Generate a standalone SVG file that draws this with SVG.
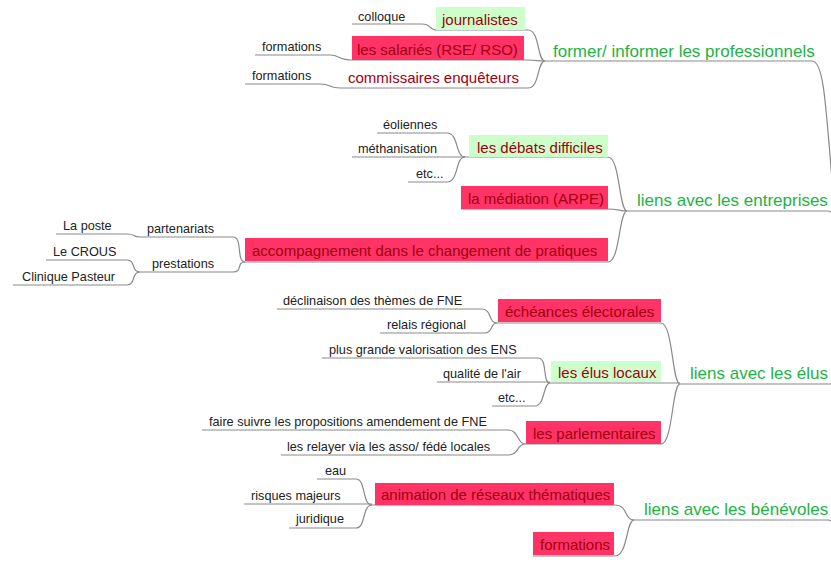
<svg xmlns="http://www.w3.org/2000/svg" width="831" height="564" viewBox="0 0 831 564">
<style>
text{font-family:"Liberation Sans",Arial,sans-serif}
.main{font-size:17px;fill:#1db345}
.sub{font-size:15px;fill:#a0000f}
.leaf{font-size:12.7px;fill:#222}
.pink{fill:#ff3366}
.lg{fill:#ccffcc}
#connectors path{fill:none;stroke:#8a8a8a;stroke-width:1.2}
</style>
<rect width="831" height="564" fill="#fff"/>
<g id="connectors">
<path d="M545 61 H812 C826 61 826 120 838 250"/>
<path d="M437 30 H528 C540 30 537 61 545 61"/>
<path d="M352 24 H422 C432 24 428 30 437 30"/>
<path d="M352 60 H527 C537 60 537 61 545 61"/>
<path d="M255 55 H330 C340 55 338 60 352 60"/>
<path d="M340 88 H528 C540 88 537 61 545 61"/>
<path d="M245 84 H320 C332 84 328 88 340 88"/>
<path d="M627 211 H828 C830 211 831 212 834 214"/>
<path d="M465 157 H608 C620 157 619 211 627 211"/>
<path d="M377 133 H447 C459 133 455 157 465 157"/>
<path d="M352 157 H465"/>
<path d="M408 182 H447 C459 182 455 157 465 157"/>
<path d="M461 209 H608 C618 209 620 211 627 211"/>
<path d="M245 262 H608 C620 262 619 211 627 211"/>
<path d="M140 237 H233 C243 237 236 262 245 262"/>
<path d="M56 234 H127 C136 234 132 237 140 237"/>
<path d="M140 272 H233 C243 272 236 262 245 262"/>
<path d="M46 260 H127 C136 260 131 272 140 272"/>
<path d="M13 285 H127 C136 285 131 272 140 272"/>
<path d="M680 384 H834"/>
<path d="M497 323 H661 C673 323 672 384 680 384"/>
<path d="M277 309 H482 C492 309 488 323 497 323"/>
<path d="M380 333 H485 C493 333 490 323 497 323"/>
<path d="M550 383 H680"/>
<path d="M322 358 H538 C548 358 542 383 550 383"/>
<path d="M437 382 H550"/>
<path d="M492 406 H535 C545 406 543 383 550 383"/>
<path d="M525 444 H661 C673 444 672 384 680 384"/>
<path d="M202 430 H508 C519 430 517 444 525 444"/>
<path d="M281 455 H508 C519 455 517 444 525 444"/>
<path d="M634 520 H828 C830 520 831 521 834 522"/>
<path d="M372 505 H615 C628 505 624 520 634 520"/>
<path d="M317 479 H356 C366 479 362 505 372 505"/>
<path d="M244 504 H372"/>
<path d="M289 528 H356 C366 528 362 505 372 505"/>
<path d="M533 556 H615 C628 556 626 520 634 520"/>
</g>
<g id="former"><text class="main" x="553" y="57">former/ informer les professionnels</text></g>
<g id="journalistes"><rect class="lg" x="436" y="7" width="89" height="23"/><text class="sub" x="442" y="25">journalistes</text></g>
<g id="colloque"><text class="leaf" x="358" y="21">colloque</text></g>
<g id="salaries"><rect class="pink" x="352" y="36" width="172" height="24"/><text class="sub" x="357" y="55">les salariés (RSE/ RSO)</text></g>
<g id="formations1"><text class="leaf" x="262" y="50.5">formations</text></g>
<g id="commissaires"><text class="sub" x="348" y="83">commissaires enquêteurs</text></g>
<g id="formations2"><text class="leaf" x="252" y="79.5">formations</text></g>
<g id="entreprises"><text class="main" x="637" y="206">liens avec les entreprises</text></g>
<g id="debats"><rect class="lg" x="469" y="135" width="139" height="22"/><text class="sub" x="477" y="153">les débats difficiles</text></g>
<g id="eoliennes"><text class="leaf" x="383" y="128.5">éoliennes</text></g>
<g id="methanisation"><text class="leaf" x="358" y="152.5">méthanisation</text></g>
<g id="etc1"><text class="leaf" x="416" y="177.5">etc...</text></g>
<g id="mediation"><rect class="pink" x="461" y="186" width="147" height="23"/><text class="sub" x="468" y="204">la médiation (ARPE)</text></g>
<g id="accompagnement"><rect class="pink" x="245" y="238" width="363" height="23"/><text class="sub" x="252" y="256">accompagnement dans le changement de pratiques</text></g>
<g id="partenariats"><text class="leaf" x="147" y="232.5">partenariats</text></g>
<g id="laposte"><text class="leaf" x="63" y="229.5">La poste</text></g>
<g id="prestations"><text class="leaf" x="152" y="267.5">prestations</text></g>
<g id="crous"><text class="leaf" x="53" y="255.5">Le CROUS</text></g>
<g id="clinique"><text class="leaf" x="22" y="280.5">Clinique Pasteur</text></g>
<g id="elus"><text class="main" x="690" y="379">liens avec les élus</text></g>
<g id="echeances"><rect class="pink" x="498" y="299" width="163" height="23"/><text class="sub" x="505" y="317">échéances électorales</text></g>
<g id="declinaison"><text class="leaf" x="283" y="304.5">déclinaison des thèmes de FNE</text></g>
<g id="relais"><text class="leaf" x="387" y="328.5">relais régional</text></g>
<g id="eluslocaux"><rect class="lg" x="551" y="361" width="110" height="21"/><text class="sub" x="558" y="378">les élus locaux</text></g>
<g id="valorisation"><text class="leaf" x="329" y="353.5">plus grande valorisation des ENS</text></g>
<g id="air"><text class="leaf" x="443" y="377.5">qualité de l'air</text></g>
<g id="etc2"><text class="leaf" x="498" y="401.5">etc...</text></g>
<g id="parlementaires"><rect class="pink" x="526" y="421" width="135" height="23"/><text class="sub" x="533" y="439">les parlementaires</text></g>
<g id="fairesuivre"><text class="leaf" x="209" y="425.5">faire suivre les propositions amendement de FNE</text></g>
<g id="relayer"><text class="leaf" x="287" y="450.5">les relayer via les asso/ fédé locales</text></g>
<g id="benevoles"><text class="main" x="644" y="515">liens avec les bénévoles</text></g>
<g id="animation"><rect class="pink" x="375" y="483" width="239" height="22"/><text class="sub" x="381" y="500">animation de réseaux thématiques</text></g>
<g id="eau"><text class="leaf" x="325" y="474.5">eau</text></g>
<g id="risques"><text class="leaf" x="251" y="499.5">risques majeurs</text></g>
<g id="juridique"><text class="leaf" x="296" y="523">juridique</text></g>
<g id="formations3"><rect class="pink" x="533" y="532" width="81" height="23"/><text class="sub" x="540" y="550">formations</text></g>
</svg>
